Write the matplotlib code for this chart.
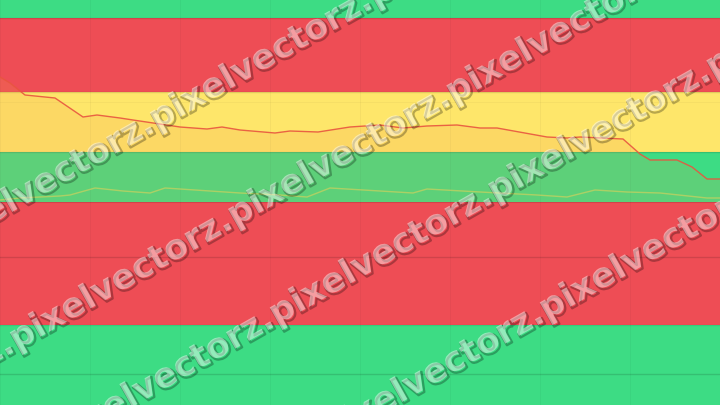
import matplotlib
matplotlib.use("Agg")
import matplotlib.pyplot as plt
import matplotlib.patheffects as pe
import numpy as np

# ---- data ----
red_t = [0, 10, 25, 55, 83, 97, 120, 133, 180, 207, 222, 240, 275, 290, 318, 350,
         380, 403, 427, 457, 480, 497, 547, 567, 580, 623, 640, 650, 677, 692, 707, 720]
red_v = [62.5, 59.5, 53.5, 52, 42.5, 43.5, 42, 41, 37.5, 36.5, 37.5, 36, 34.5, 35.5, 35, 37.5,
         38.5, 37, 38, 38.5, 37, 37, 32.5, 32, 32.5, 31.5, 24, 21, 21, 17.5, 11.5, 11.5]
green_t = [0, 20, 60, 70, 95, 123, 150, 165, 180, 240, 280, 307, 330, 380, 413, 427,
           480, 537, 567, 595, 627, 660, 707, 720]
green_v = [1, 2, 3, 3.5, 7, 5.5, 4.5, 7, 6.5, 4.5, 3.5, 2.5, 7, 5.5, 4.5, 6.5,
           5, 3.5, 2.5, 6, 5, 4.5, 2, 2]

top_bands = [(0, 25, "#3ddc84"), (25, 55, "#fee66a"), (55, 92, "#ee4d55"), (92, 101, "#3ddc84")]
bot_bands = [(0, 40, "#3ddc84"), (40, 101.5, "#ee4d55")]
bot_levels = [15.5, 74]
watermark = "pixelvectorz."

# ---- figure ----
W, H = 720, 405
fig = plt.figure(figsize=(7.2, 4.05), dpi=100)
ax1 = fig.add_axes([0, 1 - 202 / H, 1, 202 / H])
ax2 = fig.add_axes([0, 0, 1, 203 / H])

for ax in (ax1, ax2):
    ax.set_xlim(0, 720)
    ax.set_xticks(np.arange(0, 721, 90))
    for sp in ax.spines.values():
        sp.set_visible(False)
    ax.tick_params(left=False, bottom=False, labelleft=False, labelbottom=False)
    ax.grid(axis="x", color="k", alpha=0.035, lw=0.8)

ax1.set_ylim(0, 101)
for lo, hi, c in top_bands:
    ax1.axhspan(lo, hi, color=c, zorder=0, lw=0)
for lo, hi, c in top_bands[1:]:
    ax1.axhline(lo, color="k", alpha=0.12, lw=1, zorder=1)
ax1.axhline(50, color="k", alpha=0.03, lw=0.8, zorder=1)
ax1.fill_between(red_t, red_v, 0, color="#f39c4c", alpha=0.18, lw=0, zorder=2)
ax1.plot(red_t, red_v, color="#e8553f", lw=1.0, alpha=0.9, zorder=3)
ax1.plot(green_t, green_v, color="#c0d060", lw=1.0, alpha=0.8, zorder=3)

ax2.set_ylim(0, 101.5)
for lo, hi, c in bot_bands:
    ax2.axhspan(lo, hi, color=c, zorder=0, lw=0)
ax2.axhline(40, color="k", alpha=0.08, lw=1, zorder=1)
ax2.axhline(101.5, color="k", alpha=0.12, lw=1.5, zorder=1)
for lv in bot_levels:
    ax2.axhline(lv, color="k", alpha=0.13, lw=1, zorder=1)

# ---- watermark ----
ang = 29.5
fs = 24.5
renderer = fig.canvas.get_renderer()
probe = fig.text(0, 0, watermark * 4, fontsize=fs, fontweight="bold", family="DejaVu Sans")
wlen = probe.get_window_extent(renderer).width / 4.0
probe.remove()
fs = fs * 251.0 / wlen
wlen = 251.0
rad = np.deg2rad(ang)
step = np.array([wlen * np.cos(rad), -wlen * np.sin(rad)])
anchors = [(157, 130), (17, 350), (277, 325), (547, 320)]
long_text = watermark * 8
for ax0, ay0 in anchors:
    sx, sy = np.array([ax0, ay0]) - 3 * step
    fig.text(sx / W, 1 - sy / H, long_text, rotation=ang, rotation_mode="anchor",
             ha="left", va="baseline", fontsize=fs, fontweight="bold",
             family="DejaVu Sans", color="white", alpha=0.45, zorder=10,
             path_effects=[pe.SimpleLineShadow(offset=(1.2, -1.2), shadow_color="k",
                                               alpha=0.28, linewidth=1.6),
                           pe.Normal()])

fig.savefig("out.png", dpi=100)
